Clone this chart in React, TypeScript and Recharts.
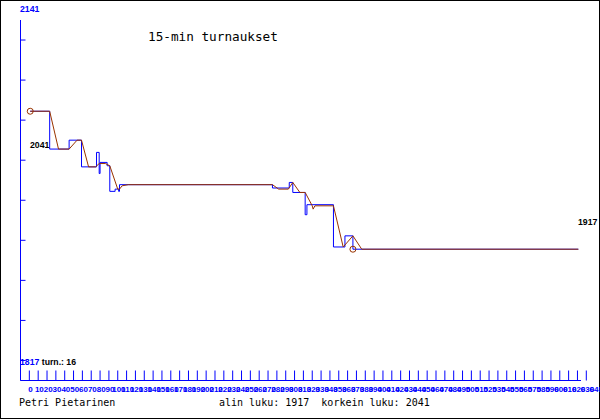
import React from 'react';
import { LineChart, Line, XAxis, YAxis, ReferenceDot, ReferenceLine } from 'recharts';

// rating history, x in axis units (labels every 10)
const brownX = [11, 33, 43, 55, 64, 69, 77, 85, 89, 96, 101, 110, 112, 115, 122, 285, 292, 303, 308, 316, 322, 330, 331, 333, 354, 365, 376, 386, 631];
const brownV = [2041, 2041, 2007, 2007, 2015, 2015, 1991, 1991, 1994, 1994, 1992, 1971, 1971, 1974, 1975, 1975, 1971, 1971, 1977, 1968, 1968, 1956, 1953, 1956, 1956, 1919, 1929, 1917, 1917];

// game-by-game steps (drawn as step-before)
const blueX = [11, 33, 55, 69, 86, 89, 90, 98, 101, 107, 111, 112, 285, 304, 308, 322, 324, 354, 367, 376, 631];
const blueV = [2041, 2041, 2007, 2015, 1991, 2004, 1985, 1995, 1992, 1969, 1971, 1969, 1975, 1972, 1977, 1968, 1948, 1957, 1919, 1929, 1917];

const xTicks = [0, 10, 20, 30, 40, 50, 60, 70, 80, 90, 100, 110, 120, 130, 140, 150, 160, 170, 180, 190, 200, 210, 220, 230, 240, 250, 260, 270, 280, 290, 300, 310, 320, 330, 340, 350, 360, 370, 380, 390, 400, 410, 420, 430, 440, 450, 460, 470, 480, 490, 500, 510, 520, 530, 540, 550, 560, 570, 580, 590, 600, 610, 620, 630, 640];
const yTicks = [1817, 1853, 1889, 1925, 1961, 1997, 2033, 2069, 2105];

const firstPoint = { x: 11, v: 2041 };
const lastPoint = { x: 376, v: 1917 };
const axisEnd = 634;

const brownData = brownX.map((x, i) => ({ x, v: brownV[i] }));
const blueData = blueX.map((x, i) => ({ x, v: blueV[i] }));

const BLUE = '#0000ff';
const BROWN = '#993300';
const SANS = '"Liberation Sans", Arial, sans-serif';
const MONO = '"DejaVu Sans Mono", monospace';

const XTick = (props: any) => {
  const { x, y, payload } = props;
  return (
    <text x={x + 10} y={y + 21} textAnchor="middle" fill={BLUE} fontSize={8} fontWeight="bold" fontFamily={SANS}>
      {payload.value}
    </text>
  );
};

const NoTick = () => <g />;

export default function App() {
  return (
    <div style={{ position: 'absolute', left: 0, top: 0, width: 600, height: 420, background: '#fff' }}>
      <div style={{ position: 'absolute', left: 0, top: 0, width: 600, height: 419, border: '1px solid #000', boxSizing: 'border-box' }} />
      <LineChart
        width={600}
        height={420}
        margin={{ top: 20, left: 0, right: 13.7, bottom: 0 }}
        style={{ position: 'absolute', left: 0, top: 0 }}
      >
        <XAxis
          type="number"
          dataKey="x"
          domain={[0, 640]}
          ticks={xTicks}
          interval={0}
          height={39.5}
          axisLine={false}
          tickLine={{ stroke: BLUE }}
          tickSize={-10}
          tickMargin={0}
          tick={<XTick />}
        />
        <YAxis
          type="number"
          domain={[1799, 2123]}
          ticks={yTicks}
          interval={0}
          width={20.5}
          axisLine={{ stroke: BLUE }}
          tickLine={{ stroke: BLUE }}
          tickSize={-5}
          tick={<NoTick />}
        />
        <ReferenceLine
          segment={[{ x: 0, y: 1799 }, { x: axisEnd, y: 1799 }]}
          stroke={BLUE}
          ifOverflow="visible"
        />
        <Line data={blueData} dataKey="v" type="stepBefore" stroke={BLUE} strokeWidth={1} dot={false} isAnimationActive={false} />
        <Line data={brownData} dataKey="v" type="linear" stroke={BROWN} strokeWidth={1} dot={false} isAnimationActive={false} />
        <ReferenceDot x={firstPoint.x} y={firstPoint.v} r={3} fill="none" stroke={BROWN} ifOverflow="visible" />
        <ReferenceDot x={lastPoint.x} y={lastPoint.v} r={3} fill="none" stroke={BROWN} ifOverflow="visible" />
      </LineChart>
      <svg width={600} height={420} style={{ position: 'absolute', left: 0, top: 0, pointerEvents: 'none' }}>
        <text x={20} y={12} fill={BLUE} fontSize={8.7} fontWeight="bold" fontFamily={SANS}>2141</text>
        <text x={148} y={41} fill="#000" fontSize={12.7} fontFamily={MONO}>15-min turnaukset</text>
        <text x={30} y={148} fill="#000" fontSize={8.7} fontWeight="bold" fontFamily={SANS}>2041</text>
        <text x={578} y={225} fill="#000" fontSize={8.7} fontWeight="bold" fontFamily={SANS}>1917</text>
        <text x={20} y={365} fontSize={8.7} fontWeight="bold" fontFamily={SANS}>
          <tspan fill={BLUE}>1817</tspan>
          <tspan fill="#000"> turn.: 16</tspan>
        </text>
        <text x={19} y={406} fill="#000" fontSize={10} fontFamily={MONO}>Petri Pietarinen</text>
        <text x={219} y={406} fill="#000" fontSize={10} fontFamily={MONO} style={{ whiteSpace: 'pre' }}>alin luku: 1917  korkein luku: 2041</text>
      </svg>
    </div>
  );
}
